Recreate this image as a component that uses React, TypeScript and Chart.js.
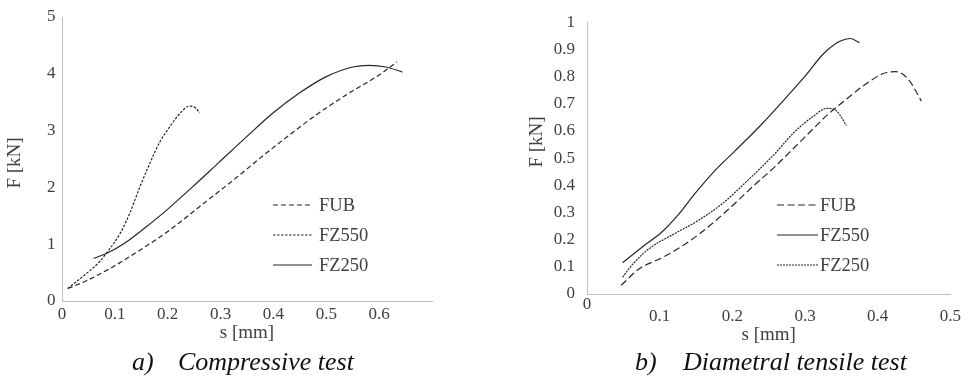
import React, { useEffect, useRef } from 'react';
import { Chart, registerables } from 'chart.js';

Chart.register(...registerables);

const SERIF = "'Liberation Serif', 'Times New Roman', serif";
const TEXT = '#404040';
const AXIS = '#bfbfbf';
const LINE = '#262626';

// ---- a) Compressive test ----
const compFUB_s = [0.011, 0.047, 0.096, 0.153, 0.204, 0.26, 0.323, 0.386, 0.43, 0.48, 0.543, 0.6, 0.634];
const compFUB_F = [0.22, 0.36, 0.6, 0.93, 1.25, 1.66, 2.12, 2.6, 2.92, 3.27, 3.66, 3.98, 4.21];
const compFZ550_s = [0.011, 0.047, 0.072, 0.084, 0.11, 0.128, 0.147, 0.166, 0.185, 0.204, 0.223, 0.241, 0.254, 0.26];
const compFZ550_F = [0.22, 0.49, 0.7, 0.84, 1.19, 1.54, 2.0, 2.42, 2.8, 3.07, 3.3, 3.43, 3.39, 3.31];
const compFZ250_s = [0.06, 0.085, 0.122, 0.16, 0.198, 0.247, 0.298, 0.349, 0.398, 0.449, 0.5, 0.55, 0.58, 0.613, 0.644];
const compFZ250_F = [0.75, 0.84, 1.04, 1.31, 1.6, 2.01, 2.45, 2.89, 3.3, 3.66, 3.95, 4.12, 4.15, 4.12, 4.03];
const compXTicks = [0, 0.1, 0.2, 0.3, 0.4, 0.5, 0.6];
const compYTicks = [0, 1, 2, 3, 4, 5];

// ---- b) Diametral tensile test ----
const tensFUB_s = [0.047, 0.072, 0.103, 0.126, 0.158, 0.194, 0.23, 0.258, 0.285, 0.312, 0.33, 0.357, 0.385, 0.412, 0.425, 0.443, 0.46];
const tensFUB_F = [0.032, 0.093, 0.133, 0.168, 0.228, 0.31, 0.4, 0.467, 0.538, 0.61, 0.657, 0.717, 0.775, 0.815, 0.818, 0.787, 0.71];
const tensFZ550_s = [0.049, 0.077, 0.103, 0.126, 0.149, 0.176, 0.203, 0.239, 0.276, 0.303, 0.321, 0.33, 0.348, 0.362, 0.375];
const tensFZ550_F = [0.115, 0.175, 0.228, 0.293, 0.371, 0.454, 0.525, 0.621, 0.729, 0.811, 0.871, 0.896, 0.93, 0.94, 0.925];
const tensFZ250_s = [0.049, 0.063, 0.086, 0.117, 0.149, 0.185, 0.222, 0.258, 0.285, 0.312, 0.33, 0.344, 0.357];
const tensFZ250_F = [0.062, 0.11, 0.168, 0.217, 0.264, 0.33, 0.42, 0.515, 0.595, 0.655, 0.683, 0.672, 0.62];
const tensXTicks = [0, 0.1, 0.2, 0.3, 0.4, 0.5];
const tensYTicks = [0, 0.1, 0.2, 0.3, 0.4, 0.5, 0.6, 0.7, 0.8, 0.9, 1];

const zip = (xs: number[], ys: number[]) => xs.map((x, i) => ({ x, y: ys[i] }));

const fmt = (v: number) => {
  const r = Math.round(v * 10) / 10;
  return Number.isInteger(r) ? String(r) : r.toFixed(1);
};

const inlineLegend = {
  id: 'inlineLegend',
  afterDraw(chart: any, _args: any, opts: any) {
    const { ctx } = chart;
    ctx.save();
    chart.data.datasets.forEach((ds: any, i: number) => {
      const y = opts.ys[i];
      ctx.strokeStyle = ds.borderColor;
      ctx.lineWidth = ds.borderWidth;
      ctx.setLineDash(ds.borderDash || []);
      ctx.beginPath();
      ctx.moveTo(opts.x1, y);
      ctx.lineTo(opts.x2, y);
      ctx.stroke();
      ctx.setLineDash([]);
      ctx.fillStyle = TEXT;
      ctx.font = `${opts.size}px ${SERIF}`;
      ctx.textBaseline = 'middle';
      ctx.textAlign = 'left';
      ctx.fillText(ds.label, opts.textX, y + 1);
    });
    ctx.restore();
  },
};

const extraText = {
  id: 'extraText',
  afterDraw(chart: any, _args: any, opts: any) {
    const { ctx } = chart;
    ctx.save();
    ctx.fillStyle = TEXT;
    if (opts.zeroY) {
      ctx.font = `17px ${SERIF}`;
      ctx.textAlign = 'center';
      ctx.textBaseline = 'middle';
      ctx.fillText('0', chart.scales.x.getPixelForValue(0), opts.zeroY);
    }
    ctx.translate(opts.yTitleX, opts.yTitleY);
    ctx.rotate(-Math.PI / 2);
    ctx.font = `19px ${SERIF}`;
    ctx.textAlign = 'center';
    ctx.textBaseline = 'middle';
    ctx.fillText(opts.yTitle, 0, 0);
    ctx.restore();
  },
};

function ds(label: string, xs: number[], ys: number[], dash: number[]) {
  return {
    label,
    data: zip(xs, ys),
    borderColor: LINE,
    borderWidth: 1.2,
    borderDash: dash,
    pointRadius: 0,
    fill: false,
    cubicInterpolationMode: 'monotone' as const,
  };
}

function makeConfig(p: any): any {
  return {
    type: 'line',
    data: { datasets: p.datasets },
    plugins: [inlineLegend, extraText],
    options: {
      animation: false,
      responsive: false,
      devicePixelRatio: 1,
      layout: { padding: p.padding },
      plugins: {
        legend: { display: false },
        tooltip: { enabled: false },
        inlineLegend: p.legend,
        extraText: p.extra,
      },
      scales: {
        x: {
          type: 'linear',
          min: 0,
          max: p.xMax,
          afterFit: (s: any) => { s.height = p.xHeight; },
          afterBuildTicks: (s: any) => { s.ticks = p.xTicks.map((v: number) => ({ value: v })); },
          ticks: {
            callback: p.xLabel,
            font: { family: SERIF, size: 17 },
            color: TEXT,
            padding: p.xTickPad,
            maxRotation: 0,
            autoSkip: false,
          },
          grid: { display: false, drawTicks: false, tickLength: 0 },
          border: { display: true, color: AXIS, width: 1 },
          title: {
            display: true,
            text: 's [mm]',
            font: { family: SERIF, size: 19 },
            color: TEXT,
            padding: { top: 0, bottom: p.xTitlePad },
          },
        },
        y: {
          type: 'linear',
          min: 0,
          max: p.yMax,
          afterFit: (s: any) => { s.width = p.yWidth; },
          afterBuildTicks: (s: any) => { s.ticks = p.yTicks.map((v: number) => ({ value: v })); },
          ticks: {
            callback: (v: number) => fmt(v),
            font: { family: SERIF, size: 17 },
            color: TEXT,
            padding: p.yTickPad,
            autoSkip: false,
          },
          grid: { display: false, drawTicks: false, tickLength: 0 },
          border: { display: true, color: AXIS, width: 1 },
          title: { display: false },
        },
      },
    },
  };
}

function Panel({ cfg, style }: { cfg: any; style: React.CSSProperties }) {
  const ref = useRef<HTMLCanvasElement | null>(null);
  useEffect(() => {
    if (!ref.current) return;
    const chart = new Chart(ref.current, makeConfig(cfg));
    return () => chart.destroy();
  }, []);
  return (
    <canvas
      ref={ref}
      width={style.width as number}
      height={style.height as number}
      style={{ position: 'absolute', display: 'block', ...style }}
    />
  );
}

export default function App() {
  const left = {
    datasets: [
      ds('FUB', compFUB_s, compFUB_F, [5, 3]),
      ds('FZ550', compFZ550_s, compFZ550_F, [2.5, 1.5]),
      ds('FZ250', compFZ250_s, compFZ250_F, []),
    ],
    padding: { left: 0, top: 17, right: 48, bottom: 0 },
    xMax: 0.7,
    yMax: 5,
    xTicks: compXTicks,
    yTicks: compYTicks,
    xLabel: (v: number) => fmt(v),
    xHeight: 49,
    yWidth: 62,
    xTickPad: 3,
    yTickPad: 6.5,
    xTitlePad: 5.6,
    legend: { x1: 273, x2: 312, textX: 319, ys: [205, 235, 265], size: 18.5 },
    extra: { yTitle: 'F [kN]', yTitleX: 15, yTitleY: 163, zeroY: 0 },
  };
  const right = {
    datasets: [
      ds('FUB', tensFUB_s, tensFUB_F, [7, 3.5]),
      ds('FZ550', tensFZ550_s, tensFZ550_F, []),
      ds('FZ250', tensFZ250_s, tensFZ250_F, [2, 1]),
    ],
    padding: { left: 0, top: 14, right: 18, bottom: 0 },
    xMax: 0.5,
    yMax: 1,
    xTicks: tensXTicks,
    yTicks: tensYTicks,
    xLabel: (v: number) => (v === 0 ? '' : fmt(v)),
    xHeight: 56,
    yWidth: 97,
    xTickPad: 12,
    yTickPad: 12,
    xTitlePad: 3.6,
    legend: { x1: 287, x2: 328, textX: 330, ys: [205, 235, 265], size: 18.5 },
    extra: { yTitle: 'F [kN]', yTitleX: 47, yTitleY: 142, zeroY: 305 },
  };
  const cap: React.CSSProperties = {
    position: 'absolute',
    top: 349,
    fontFamily: SERIF,
    fontStyle: 'italic',
    fontSize: 26,
    lineHeight: '25px',
    color: '#111',
    whiteSpace: 'nowrap',
  };
  return (
    <div style={{ position: 'fixed', left: 0, top: 0, width: 973, height: 378, background: '#fff', overflow: 'hidden' }}>
      <Panel cfg={left} style={{ left: 0, top: 0, width: 480, height: 350 }} />
      <Panel cfg={right} style={{ left: 490, top: 0, width: 483, height: 350 }} />
      <div style={{ ...cap, left: 132 }}>a)</div>
      <div style={{ ...cap, left: 178 }}>Compressive test</div>
      <div style={{ ...cap, left: 635 }}>b)</div>
      <div style={{ ...cap, left: 683 }}>Diametral tensile test</div>
    </div>
  );
}
